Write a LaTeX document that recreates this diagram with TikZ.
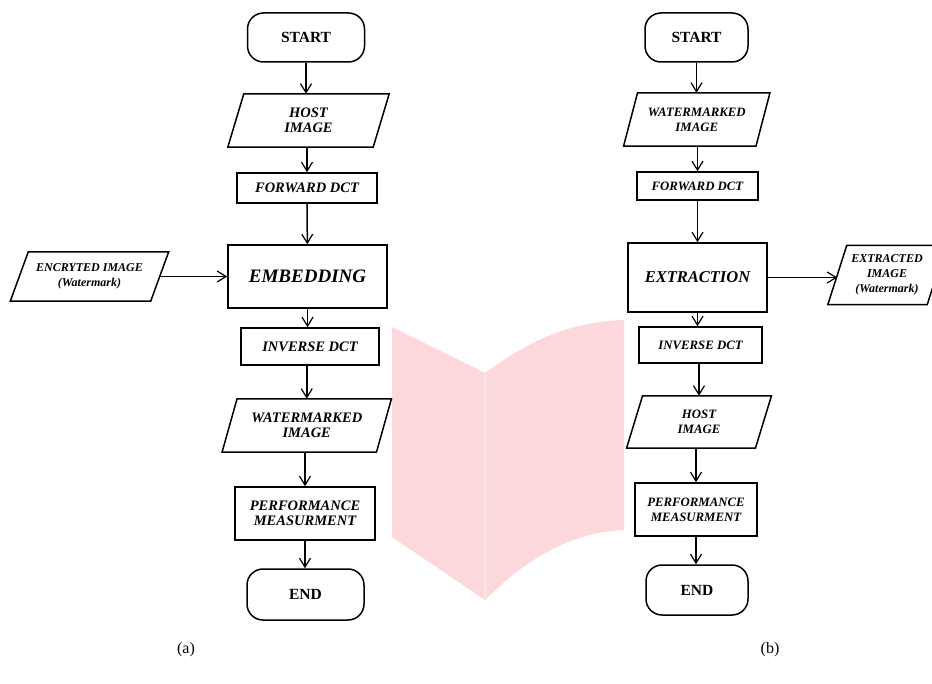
\documentclass[tikz,border=0pt]{standalone}
\usepackage{fontspec}
\setmainfont{Liberation Serif}
\usetikzlibrary{arrows.meta}
\definecolor{wmpink}{RGB}{253,216,218}
\definecolor{wmspine}{RGB}{253,226,228}
\tikzset{
  box/.style={draw=black, line width=1.5pt},
  lbl/.style={font=\bfseries\itshape\fontsize{14.5}{15.5}\selectfont, align=center, inner sep=0pt},
  term/.style={box, rounded corners=16pt, inner sep=0pt, font=\bfseries\fontsize{15.5}{17}\selectfont},
  proc/.style={box, lbl},
  io/.style={lbl},
  rside/.style={font=\bfseries\itshape\fontsize{12.8}{15}\selectfont},
  big/.style={font=\bfseries\itshape\fontsize{19}{21}\selectfont},
  bigb/.style={font=\bfseries\itshape\fontsize{16.5}{19}\selectfont},
  small/.style={font=\bfseries\itshape\fontsize{12}{15}\selectfont},
  flow/.style={line width=1.5pt, -{Straight Barb[length=9pt,width=11pt,line width=1.2pt]}},
  subcap/.style={font=\fontsize{16}{18}\selectfont, inner sep=0pt}
}
\newcommand\paragram[2]{\draw[box] ([xshift=#2]#1.north west) -- ([xshift=#2]#1.north east) -- ([xshift=-#2]#1.south east) -- ([xshift=-#2]#1.south west) -- cycle;}
\begin{document}
\begin{tikzpicture}[x=1pt,y=-1pt]
\useasboundingbox (0,0) rectangle (932,684);
% background watermark logo
\fill[wmpink] (392,327) -- (485,373) .. controls (530,340) and (570,322) .. (624,320) -- (624,530) .. controls (570,532) and (525,560) .. (485,600) -- (392,537) -- cycle;
\draw[wmspine, line width=3pt] (485,374) -- (485,598);
% ---------- (a) ----------
\node[term, minimum width=117pt, minimum height=49pt] (sa) at (306,37.5) {START};
\node[io, minimum width=145pt, minimum height=53pt] (ha) at (308.5,120.5) {HOST\\IMAGE};
\paragram{ha}{8pt}
\node[proc, minimum width=140pt, minimum height=30pt] (fa) at (307,188) {FORWARD DCT};
\node[proc, big, minimum width=159pt, minimum height=63pt] (ea) at (307.5,276.5) {EMBEDDING};
\node[io, small, minimum width=140pt, minimum height=49pt] (ca) at (89.5,276.5) {ENCRYTED IMAGE\\(Watermark)};
\paragram{ca}{9pt}
\node[proc, minimum width=138pt, minimum height=37pt] (ia) at (310,346.5) {INVERSE DCT};
\node[io, minimum width=154pt, minimum height=53pt] (wa) at (306.75,425.5) {WATERMARKED\\IMAGE};
\paragram{wa}{7.5pt}
\node[proc, minimum width=140pt, minimum height=53pt] (pa) at (305,513.5) {PERFORMANCE\\MEASURMENT};
\node[term, minimum width=117pt, minimum height=51pt] (na) at (305.5,594.5) {END};
\draw[flow] (sa) -- (sa |- ha.north);
\draw[flow] (ha.south -| fa) -- (fa);
\draw[flow] (fa) -- (ea);
\draw[flow] (ca.east) -- (ea.west);
\draw[flow] (ea.south) -- (ea.south |- ia.north);
\draw[flow] (ia.south -| wa) -- (wa);
\draw[flow] (wa.south -| pa) -- (pa);
\draw[flow] (pa) -- (pa |- na.north);
\node[subcap] (la) at (186,650) {(a)};
% ---------- (b) ----------
\node[term, minimum width=103pt, minimum height=49pt] (sb) at (696.5,37.5) {START};
\node[io, rside, minimum width=132pt, minimum height=53pt] (hb) at (696.75,119.5) {WATERMARKED\\IMAGE};
\paragram{hb}{7pt}
\node[proc, rside, minimum width=121pt, minimum height=28pt] (fb) at (697.5,186) {FORWARD DCT};
\node[proc, bigb, minimum width=139pt, minimum height=69pt] (eb) at (697.5,277.5) {EXTRACTION};
\node[io, small, minimum width=99pt, minimum height=59pt] (xb) at (887,275) {EXTRACTED\\IMAGE\\(Watermark)};
\paragram{xb}{9.5pt}
\node[proc, rside, minimum width=123pt, minimum height=36pt] (ib) at (700.5,345) {INVERSE DCT};
\node[io, rside, minimum width=128.5pt, minimum height=52pt] (ob) at (699,422) {HOST\\IMAGE};
\paragram{ob}{8pt}
\node[proc, rside, minimum width=122pt, minimum height=53pt] (pb) at (696,509.5) {PERFORMANCE\\MEASURMENT};
\node[term, minimum width=102pt, minimum height=50pt] (nb) at (697,590) {END};
\draw[flow] (sb) -- (sb |- hb.north);
\draw[flow] (hb.south -| fb) -- (fb);
\draw[flow] (fb) -- (eb);
\draw[flow] (eb.east) -- (eb.east -| xb.west);
\draw[flow] (eb.south) -- (eb.south |- ib.north);
\draw[flow] (ib.south -| ob) -- (ob);
\draw[flow] (ob.south -| pb) -- (pb);
\draw[flow] (pb) -- (pb |- nb.north);
\node[subcap] (lb) at (770,650) {(b)};
\end{tikzpicture}
\end{document}
